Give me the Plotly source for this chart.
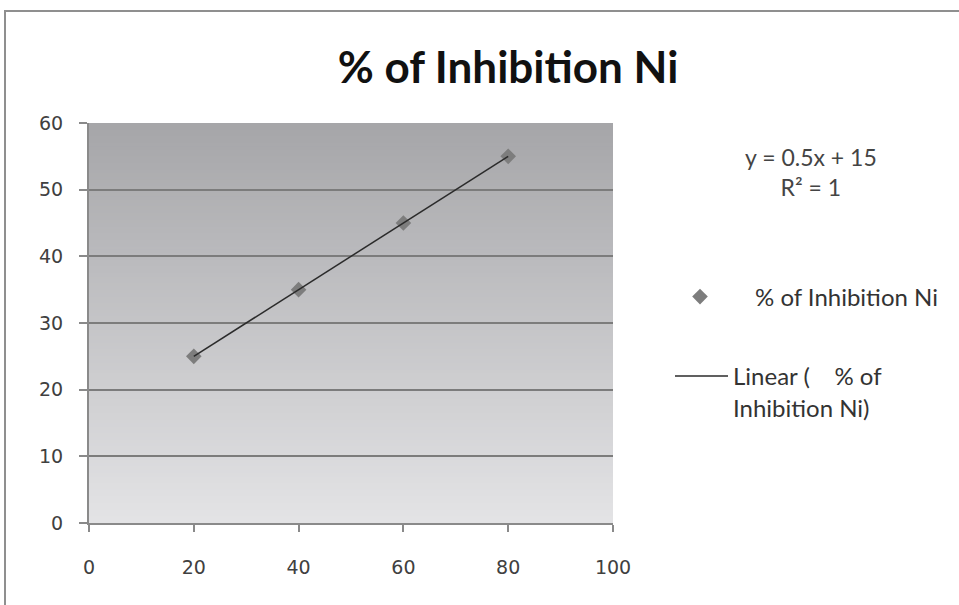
import numpy as np
import plotly.graph_objects as go

# Inhibition data (concentration vs % inhibition)
concentration = [20, 40, 60, 80]
inhibition = [25, 35, 45, 55]
series_name = "% of Inhibition Ni"
x_ticks = [0, 20, 40, 60, 80, 100]
y_ticks = [0, 10, 20, 30, 40, 50, 60]

# Linear trendline fitted to the series
slope, intercept = np.polyfit(concentration, inhibition, 1)
pred = np.polyval([slope, intercept], concentration)
ss_res = float(np.sum((np.array(inhibition) - pred) ** 2))
ss_tot = float(np.sum((np.array(inhibition) - np.mean(inhibition)) ** 2))
r2 = 1 - ss_res / ss_tot
trend_x = [min(concentration), max(concentration)]
trend_y = list(np.polyval([slope, intercept], trend_x))

eq_text = f"y = {slope:g}x + {intercept:g}<br>R\u00b2 = {round(r2, 4):g}"

W, H = 959, 605
L, R, T, B = 89, 346, 123, 82
pw, ph = W - L - R, H - T - B


def px_x(px):
    return (px - L) / pw


def px_y(py):
    return (H - B - py) / ph


fig = go.Figure()

fig.add_trace(go.Scatter(
    x=concentration, y=inhibition, mode="markers", name=series_name,
    marker=dict(symbol="diamond", size=12, color="#7d7d7d"),
    legend="legend", showlegend=True,
))
fig.add_trace(go.Scatter(
    x=trend_x, y=trend_y, mode="lines",
    name="Linear (\u00a0\u00a0\u00a0\u00a0% of<br>Inhibition Ni)",
    line=dict(color="#2b2b2b", width=1.5),
    legend="legend2", showlegend=True,
))

# Vertical grey gradient behind the plot area
shapes = []
n = 120
top = np.array([166, 166, 169])
bot = np.array([228, 228, 230])
for i in range(n):
    t0, t1 = i / n, (i + 1) / n
    c = bot + (top - bot) * ((t0 + t1) / 2)
    shapes.append(dict(
        type="rect", xref="x domain", yref="y domain",
        x0=0, x1=1, y0=t0, y1=min(1, t1 + 0.002),
        fillcolor=f"rgb({int(c[0])},{int(c[1])},{int(c[2])})",
        line=dict(width=0), layer="below",
    ))
# Chart frame
shapes.append(dict(
    type="rect", xref="paper", yref="paper",
    x0=px_x(5), x1=px_x(975), y0=px_y(620), y1=px_y(11),
    line=dict(color="#8f8f8f", width=2), fillcolor="rgba(0,0,0,0)",
))

tick_font = dict(family="DejaVu Sans", size=19, color="#404040")
txt_font = dict(family="Lato", size=24, color="#333333")

fig.update_layout(
    width=W, height=H,
    margin=dict(l=L, r=R, t=T, b=B),
    paper_bgcolor="white", plot_bgcolor="rgba(0,0,0,0)",
    showlegend=True,
    shapes=shapes,
    title=dict(
        text="% of Inhibition Ni", xref="container", yref="container",
        x=508 / W, y=1 - 68 / H, xanchor="center", yanchor="middle",
        font=dict(family="Lato", size=44, color="#111111", weight="bold"),
    ),
    xaxis=dict(
        range=[0, 100], tickvals=x_ticks, ticks="outside", ticklen=7,
        tickcolor="#8a8a8a", tickwidth=2, showline=True, linecolor="#8a8a8a",
        linewidth=2, showgrid=False, zeroline=False, tickfont=tick_font,
        ticklabelstandoff=19,
    ),
    yaxis=dict(
        range=[0, 60], tickvals=y_ticks, ticks="outside", ticklen=8,
        tickcolor="#8a8a8a", tickwidth=2, showline=True, linecolor="#8a8a8a",
        linewidth=2, showgrid=True, gridcolor="#7c7c7c", gridwidth=1.5,
        zeroline=False, tickfont=tick_font, ticklabelstandoff=12,
    ),
    legend=dict(
        x=px_x(645), y=px_y(297), xanchor="left", yanchor="middle",
        font=txt_font, itemwidth=100, bgcolor="rgba(0,0,0,0)",
    ),
    legend2=dict(
        x=px_x(670), y=px_y(392), xanchor="left", yanchor="middle",
        font=txt_font, itemwidth=53, valign="top", bgcolor="rgba(0,0,0,0)",
    ),
    annotations=[dict(
        text=eq_text, xref="paper", yref="paper",
        x=px_x(811), y=px_y(172), xanchor="center", yanchor="middle",
        showarrow=False, align="center",
        font=dict(family="Lato", size=23, color="#444444"),
    )],
)

fig.write_html("out.html")
